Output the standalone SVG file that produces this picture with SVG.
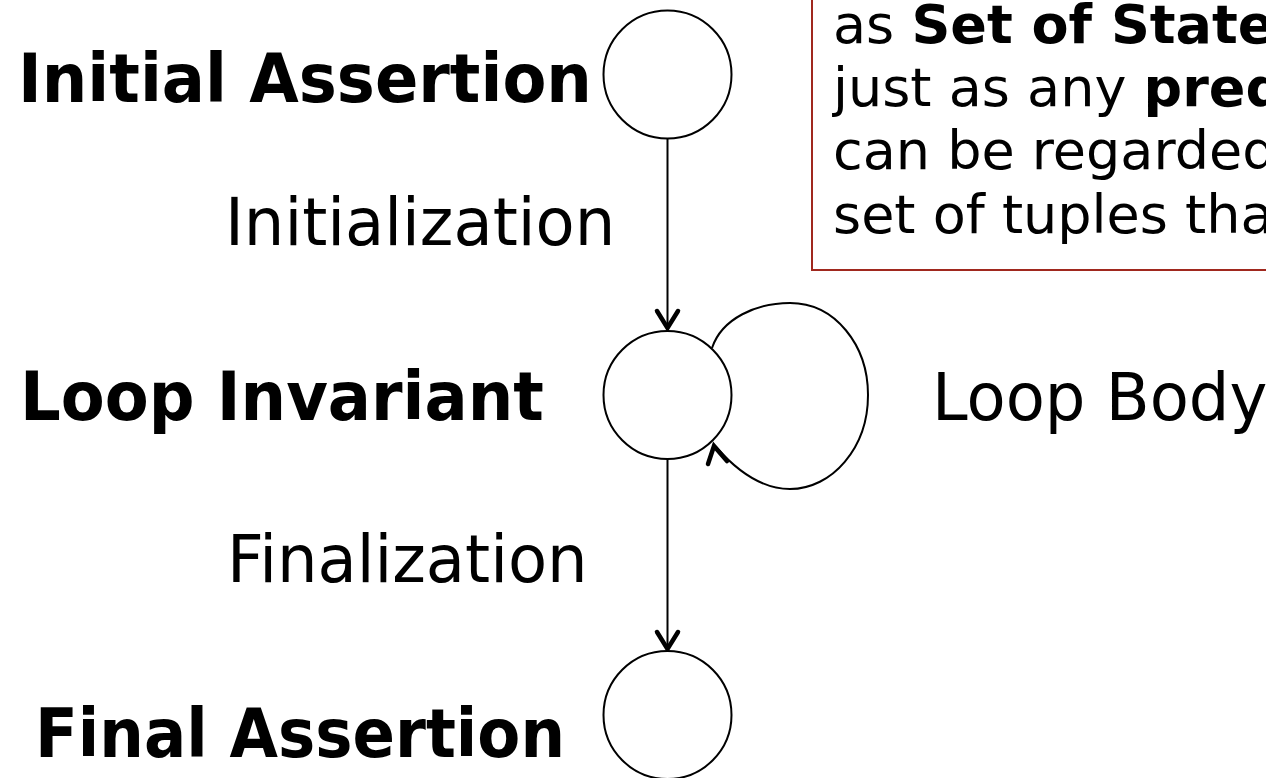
<svg xmlns="http://www.w3.org/2000/svg" width="1266" height="778" viewBox="0 0 1266 778">
  <style>
    .state { fill: #fff; stroke: #000; stroke-width: 2; }
    .edge { fill: none; stroke: #000; stroke-width: 2; }
    .head { fill: none; stroke: #000; stroke-width: 4.5; stroke-linecap: round; stroke-linejoin: miter; }
    .bold { font-family: "DejaVu Sans", Verdana, sans-serif; font-weight: bold; font-size: 64px; fill: #000; }
    .reg { font-family: "DejaVu Sans", Verdana, sans-serif; font-size: 64px; fill: #000; }
    .note { font-family: "DejaVu Sans", Verdana, sans-serif; font-size: 54px; fill: #000; }
    .note tspan.b { font-weight: bold; }
  </style>

  <!-- note box, running off the top and right edges -->
  <g id="note">
    <rect x="812" y="-40" width="500" height="310" fill="#fff" stroke="#a0281e" stroke-width="2"/>
    <text class="note" x="833" y="43">as <tspan class="b">Set of States</tspan></text>
    <text class="note" x="833" y="106">just as any <tspan class="b">predicate</tspan></text>
    <text class="note" x="833" y="169">can be regarded</text>
    <text class="note" x="833" y="233">set of tuples that</text>
  </g>

  <!-- transitions -->
  <g id="connectors">
    <line class="edge" x1="667.5" y1="138" x2="667.5" y2="329"/>
    <polyline class="head" points="657,311 667.5,328 678,311"/>
    <line class="edge" x1="667.5" y1="459" x2="667.5" y2="650"/>
    <polyline class="head" points="657,632 667.5,649 678,632"/>
    <path class="edge" d="M712,348 C722,318 757,303 790,303 C835,303 868,345 868,395 C868,448 832,489 790,489 C762,489 738,472 716,447"/>
    <polyline class="head" points="708,464 714,446 727,461"/>
  </g>

  <g id="initial">
    <circle class="state" cx="667.5" cy="74.5" r="64"/>
    <text class="bold" transform="translate(18,102) scale(1,1.05)">Initial Assertion</text>
  </g>

  <g id="invariant">
    <circle class="state" cx="667.5" cy="395" r="64"/>
    <text class="bold" transform="translate(20,420) scale(1,1.05)">Loop Invariant</text>
  </g>

  <g id="final">
    <circle class="state" cx="667.5" cy="715" r="64"/>
    <text class="bold" transform="translate(35,757) scale(1,1.05)" textLength="530" lengthAdjust="spacingAndGlyphs">Final Assertion</text>
  </g>

  <g id="labels">
    <text class="reg" transform="translate(225,245) scale(1,1.03)">Initialization</text>
    <text class="reg" transform="translate(227,582) scale(1,1.03)">Finalization</text>
    <text class="reg" transform="translate(932,420) scale(1,1.03)">Loop Body</text>
  </g>
</svg>
